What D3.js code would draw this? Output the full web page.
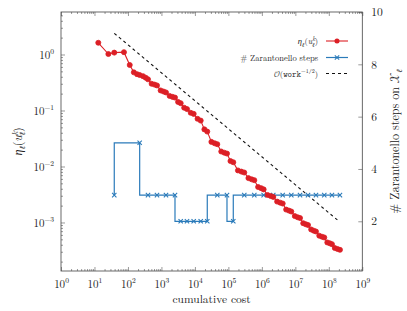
<!DOCTYPE html>
<html>
<head>
<meta charset="utf-8">
<script src="https://cdn.jsdelivr.net/npm/d3@7"></script>
<style>
  body { margin: 0; background: #fff; }
</style>
</head>
<body>
<svg id="grafico"></svg>
<script>
// cumulative cost at the end of each mesh level and number of Zarantonello steps there
const levelCost = [39, 224, 397, 737, 1368, 2541, 3760, 5800, 9190, 14900, 23400, 46600, 90800,
  140000, 298000, 594000, 1130000, 2190000, 4190000, 7570000, 13800000, 23900000, 41300000,
  73100000, 124000000, 215000000];
const zarSteps = [3, 5, 3, 3, 3, 3, 2, 2, 2, 2, 2, 3, 3, 2, 3, 3, 3, 3, 3, 3, 3, 3, 3, 3, 3, 3];

// estimator after every Zarantonello step
const etaCost = [
  13, 26, 39,
  76, 113, 150, 187, 224,
  282, 339, 397,
  510, 624, 737,
  947, 1158, 1368,
  1759, 2150, 2541,
  3150, 3760,
  4780, 5800,
  7500, 9190,
  12000, 14900,
  19200, 23400,
  31100, 38900, 46600,
  61300, 76100, 90800,
  115400, 140000,
  193000, 245000, 298000,
  397000, 495000, 594000,
  773000, 951000, 1130000,
  1480000, 1840000, 2190000,
  2860000, 3520000, 4190000,
  5320000, 6440000, 7570000,
  9650000, 11700000, 13800000,
  17200000, 20500000, 23900000,
  29700000, 35500000, 41300000,
  51900000, 62500000, 73100000,
  90100000, 107000000, 124000000,
  151000000, 182000000, 215000000
];
const etaValue = [
  1.62, 1.02, 1.08,
  1.10, 0.65, 0.48, 0.445, 0.43,
  0.41, 0.385, 0.36,
  0.30, 0.29, 0.28,
  0.228, 0.218, 0.21,
  0.182, 0.175, 0.17,
  0.142, 0.135,
  0.112, 0.106,
  0.091, 0.087,
  0.071, 0.066,
  0.046, 0.042,
  0.0275, 0.026, 0.025,
  0.0185, 0.0176, 0.017,
  0.0125, 0.0119,
  0.0085, 0.0081, 0.0078,
  0.0062, 0.0059, 0.0057,
  0.0043, 0.0041, 0.0039,
  0.0031, 0.00297, 0.00286,
  0.00236, 0.00226, 0.00218,
  0.0017, 0.00163, 0.00157,
  0.0013, 0.00124, 0.0012,
  0.00097, 0.00093, 0.0009,
  0.00075, 0.000714, 0.00069,
  0.00058, 0.000557, 0.00054,
  0.00044, 0.000425, 0.00041,
  0.00035, 0.000336, 0.000325
];

// reference slope O(work^-1/2)
const refCost = [39, 1.8e8];
const refValue = [2.39, 1.11e-3];

const xTicks = [0, 1, 2, 3, 4, 5, 6, 7, 8, 9];
const yLeftTicks = [0, -1, -2, -3];
const yRightTicks = [2, 4, 6, 8, 10];

const largura = 407, altura = 311;
const margem = { esquerda: 61, direita: 44.7, superior: 12, inferior: 40 };
const larguraPlot = largura - margem.esquerda - margem.direita;
const alturaPlot = altura - margem.superior - margem.inferior;

const vermelho = '#dc1f26', azul = '#2b7bba';
const serifa = "'Latin Modern Roman', 'Liberation Serif', serif";
const mono = "'Latin Modern Mono', 'Liberation Mono', monospace";
const mat = "'Latin Modern Math', 'Latin Modern Roman', serif";

const svg = d3.select('#grafico').attr('width', largura).attr('height', altura);
const plot = svg.append('g')
  .attr('transform', 'translate(' + margem.esquerda + ',' + margem.superior + ')');

const fnX = d3.scaleLog().domain([1, 1e9]).range([0, larguraPlot]);
const fnY = d3.scaleLog().domain([1.36e-4, 5.74]).range([alturaPlot, 0]);
const fnY2 = d3.scaleLinear().domain([0.1, 10]).range([alturaPlot, 0]);

// minor ticks of a log axis between the given decades
function menores(d0, d1) {
  let v = [];
  for (let e = d0; e < d1; e++)
    for (let m = 2; m <= 9; m++) v.push(m * Math.pow(10, e));
  return v;
}

function potencia(sel, e) {
  sel.text(null);
  sel.append('tspan').text('10');
  sel.append('tspan').attr('dy', -4.5).style('font-size', '7.5px')
    .text(e < 0 ? '\u2212' + (-e) : e);
}

function limpa(g) {
  g.attr('font-family', null).attr('font-size', null);
  g.select('.domain').remove();
  g.selectAll('line').attr('stroke', '#555').attr('stroke-width', 0.6);
}

// x axes (bottom and top), inward ticks
const xMaj = xTicks.map(e => Math.pow(10, e));
const xMin = menores(0, 9);
const eixoX = plot.append('g').attr('transform', 'translate(0,' + alturaPlot + ')')
  .call(d3.axisBottom(fnX).tickValues(xMaj).tickSize(-4).tickPadding(10));
eixoX.call(limpa);
eixoX.selectAll('.tick text').style('font-size', '11px').attr('dy', 0).attr('y', 16.5)
  .each(function(d) { potencia(d3.select(this), Math.round(Math.log10(d))); });
plot.append('g').attr('transform', 'translate(0,' + alturaPlot + ')')
  .call(d3.axisBottom(fnX).tickValues(xMin).tickSize(-2).tickFormat('')).call(limpa);
plot.append('g').call(d3.axisTop(fnX).tickValues(xMaj).tickSize(-4).tickFormat('')).call(limpa);
plot.append('g').call(d3.axisTop(fnX).tickValues(xMin).tickSize(-2).tickFormat('')).call(limpa);

// left log axis
const yMaj = yLeftTicks.map(e => Math.pow(10, e));
const eixoY = plot.append('g')
  .call(d3.axisLeft(fnY).tickValues(yMaj).tickSize(-4).tickPadding(7));
eixoY.call(limpa);
eixoY.selectAll('.tick text').style('font-size', '11px').attr('dy', '0.32em')
  .each(function(d) { potencia(d3.select(this), Math.round(Math.log10(d))); });
plot.append('g')
  .call(d3.axisLeft(fnY).tickValues(menores(-4, 1).filter(v => v > 1.36e-4 && v < 5.74))
    .tickSize(-2).tickFormat('')).call(limpa);

// right linear axis
const eixoY2 = plot.append('g').attr('transform', 'translate(' + larguraPlot + ',0)')
  .call(d3.axisRight(fnY2).tickValues(yRightTicks).tickSize(-4).tickPadding(9));
eixoY2.call(limpa);
eixoY2.selectAll('.tick text').style('font-size', '11.5px');

// frame
plot.append('rect').attr('width', larguraPlot).attr('height', alturaPlot)
  .attr('fill', 'none').attr('stroke', '#444').attr('stroke-width', 0.8);

// reference line
plot.append('path')
  .attr('d', d3.line().x((d, i) => fnX(refCost[i])).y(d => fnY(d))(refValue))
  .attr('fill', 'none').attr('stroke', '#111').attr('stroke-width', 1.1)
  .attr('stroke-dasharray', '3,3');

// Zarantonello steps
const passos = levelCost.map((c, i) => ({ x: c, y: zarSteps[i] }));
plot.append('path')
  .attr('d', d3.line().curve(d3.curveStepBefore).x(d => fnX(d.x)).y(d => fnY2(d.y))(passos))
  .attr('fill', 'none').attr('stroke', azul).attr('stroke-width', 1.2);
const cruz = d3.symbol().type(d3.symbolTimes).size(14);
plot.selectAll('.passo').data(passos).enter().append('path').classed('passo', true)
  .attr('d', cruz)
  .attr('transform', d => 'translate(' + fnX(d.x) + ',' + fnY2(d.y) + ')')
  .attr('fill', 'none').attr('stroke', azul).attr('stroke-width', 1.1);

// estimator
const eta = etaCost.map((c, i) => ({ x: c, y: etaValue[i] }));
plot.append('path')
  .attr('d', d3.line().x(d => fnX(d.x)).y(d => fnY(d.y))(eta))
  .attr('fill', 'none').attr('stroke', vermelho).attr('stroke-width', 1.1);
const bola = d3.symbol().type(d3.symbolCircle).size(20);
plot.selectAll('.eta').data(eta).enter().append('path').classed('eta', true)
  .attr('d', bola)
  .attr('transform', d => 'translate(' + fnX(d.x) + ',' + fnY(d.y) + ')')
  .attr('fill', vermelho).attr('stroke', vermelho).attr('stroke-width', 0.8);

// math helper: list of [text, options]
function escreve(sel, partes) {
  partes.forEach(p => {
    let t = sel.append('tspan').text(p[0]);
    let o = p[1] || {};
    if (o.dx) t.attr('dx', o.dx);
    if (o.dy) t.attr('dy', o.dy);
    if (o.size) t.style('font-size', o.size);
    if (o.it) t.style('font-style', 'italic');
    if (o.mono) t.style('font-family', mono);
    if (o.mat) t.style('font-family', mat);
  });
}

// legend
const leg = plot.append('g');
const legX = 318 - margem.esquerda, legY = [41, 57.5, 73.5].map(v => v - margem.superior);
const t1 = leg.append('text').attr('x', legX).attr('y', legY[0] + 3).attr('text-anchor', 'end')
  .style('font-size', '8.5px');
escreve(t1, [['\u03b7', { it: 1 }], ['\u2113', { dy: 2.5, size: '6px', it: 1 }], ['(', { dy: -2.5 }],
  ['u', { it: 1 }], ['k', { dy: -3.5, size: '6px', it: 1 }], ['\u2113', { dx: -3, dy: 6, size: '6px', it: 1 }],
  [')', { dy: -2.5 }]]);
leg.append('text').attr('x', legX).attr('y', legY[1] + 3).attr('text-anchor', 'end')
  .style('font-size', '8.5px').text('# Zarantonello steps');
const t3 = leg.append('text').attr('x', legX).attr('y', legY[2] + 3).attr('text-anchor', 'end')
  .style('font-size', '8.5px');
escreve(t3, [['\ud835\udcaa', { mat: 1 }], ['('], ['work', { mono: 1 }],
  ['\u22121/2', { dy: -3.5, size: '6px' }], [')', { dy: 3.5 }]]);

const l0 = 326 - margem.esquerda, l1 = 348 - margem.esquerda;
leg.append('line').attr('x1', l0).attr('x2', l1).attr('y1', legY[0]).attr('y2', legY[0])
  .attr('stroke', vermelho).attr('stroke-width', 1.1);
leg.append('path').attr('d', bola).attr('transform', 'translate(' + (l0 + l1) / 2 + ',' + legY[0] + ')')
  .attr('fill', vermelho);
leg.append('line').attr('x1', l0).attr('x2', l1).attr('y1', legY[1]).attr('y2', legY[1])
  .attr('stroke', azul).attr('stroke-width', 1.2);
leg.append('path').attr('d', cruz).attr('transform', 'translate(' + (l0 + l1) / 2 + ',' + legY[1] + ')')
  .attr('fill', 'none').attr('stroke', azul).attr('stroke-width', 1.1);
leg.append('line').attr('x1', l0).attr('x2', l1).attr('y1', legY[2]).attr('y2', legY[2])
  .attr('stroke', '#111').attr('stroke-width', 1.1).attr('stroke-dasharray', '3,3');

// axis titles
svg.append('text').attr('x', margem.esquerda + larguraPlot / 2).attr('y', 303)
  .attr('text-anchor', 'middle').style('font-size', '11.5px').text('cumulative cost');

const tituloY = svg.append('text').attr('text-anchor', 'middle').style('font-size', '12px')
  .attr('transform', 'translate(22,' + (margem.superior + alturaPlot / 2) + ') rotate(-90)');
escreve(tituloY, [['\u03b7', { it: 1 }], ['\u2113', { dy: 3, size: '8px', it: 1 }], ['(', { dy: -3 }],
  ['u', { it: 1 }], ['k', { dy: -4.5, size: '8px', it: 1 }], ['\u2113', { dx: -4, dy: 7.5, size: '8px', it: 1 }],
  [')', { dy: -3 }]]);

const tituloY2 = svg.append('text').attr('text-anchor', 'middle').style('font-size', '12px')
  .attr('transform', 'translate(399,' + (margem.superior + alturaPlot / 2) + ') rotate(-90)');
escreve(tituloY2, [['# Zarantonello steps on '], ['\ud835\udcb3', { mat: 1 }], ['\u2113', { dy: 3, size: '8px', it: 1 }]]);

// LaTeX-like font on every text (tspans with their own family keep it)
svg.selectAll('text').style('font-family', serifa).style('fill', '#222');
</script>
</body>
</html>
